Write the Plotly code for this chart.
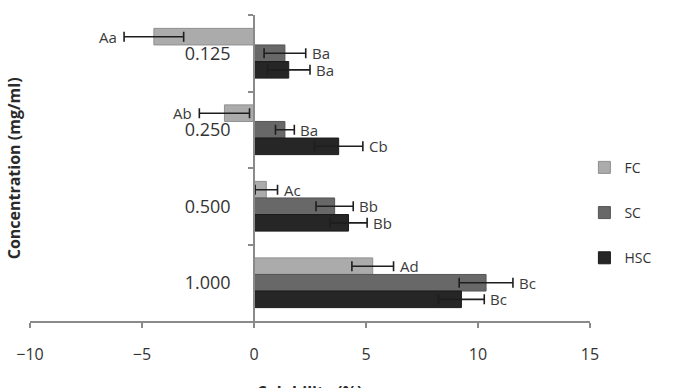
import plotly.graph_objects as go

categories = ["0.125", "0.250", "0.500", "1.000"]
series_names = ["FC", "SC", "HSC"]
fc_values = [-4.47, -1.32, 0.55, 5.3]
fc_errors = [1.33, 1.12, 0.5, 0.93]
sc_values = [1.38, 1.38, 3.6, 10.36]
sc_errors = [0.93, 0.42, 0.83, 1.2]
hsc_values = [1.55, 3.78, 4.22, 9.26]
hsc_errors = [0.95, 1.08, 0.83, 1.02]
fc_letters = ["Aa", "Ab", "Ac", "Ad"]
sc_letters = ["Ba", "Ba", "Bb", "Bc"]
hsc_letters = ["Ba", "Cb", "Bb", "Bc"]
x_ticks = [-10, -5, 0, 5, 10, 15]

colors = ["#ababab", "#686868", "#262626"]
edge = ["#8f8f8f", "#555555", "#1a1a1a"]
FONT = "Open Sans"

fig = go.Figure()
all_vals = [fc_values, sc_values, hsc_values]
all_errs = [fc_errors, sc_errors, hsc_errors]
all_letters = [fc_letters, sc_letters, hsc_letters]
for i, name in enumerate(series_names):
    fig.add_trace(go.Bar(
        name=name, y=categories, x=all_vals[i], orientation="h",
        marker=dict(color=colors[i], line=dict(color=edge[i], width=1)),
        error_x=dict(type="data", array=all_errs[i], visible=True,
                     color="#1e1e1e", thickness=1.6, width=5),
        legendgroup=name,
    ))

shifts = [16.5, 0, -16.5]
for i in range(3):
    for j, c in enumerate(categories):
        v, e = all_vals[i][j], all_errs[i][j]
        if v < 0:
            fig.add_annotation(x=v - e, y=j, text=all_letters[i][j], showarrow=False,
                               xanchor="right", xshift=-5, yshift=shifts[i],
                               font=dict(family=FONT, size=15, color="#3a3a3a"))
        else:
            fig.add_annotation(x=v + e, y=j, text=all_letters[i][j], showarrow=False,
                               xanchor="left", xshift=4, yshift=shifts[i],
                               font=dict(family=FONT, size=15, color="#3a3a3a"))

fig.add_annotation(xref="paper", yref="paper", x=-0.028, y=0.5,
                   text="<b>Concentration (mg/ml)</b>", textangle=-90, showarrow=False,
                   xanchor="center", yanchor="middle",
                   font=dict(family=FONT, size=16, color="#2a2a2a"))
fig.add_annotation(xref="paper", yref="paper", x=0.5, y=-0.19,
                   text="<b>Solubility (%)</b>", showarrow=False,
                   xanchor="center", yanchor="top",
                   font=dict(family=FONT, size=16, color="#2a2a2a"))

fig.update_layout(
    width=686, height=388,
    margin=dict(l=30, r=96, t=15, b=67),
    paper_bgcolor="white", plot_bgcolor="white",
    barmode="group", bargap=0.35, bargroupgap=0,
    showlegend=True,
    legend=dict(x=0.99, y=0.553, xanchor="left", yanchor="top",
                font=dict(family=FONT, size=14, color="#333333"),
                tracegroupgap=24, traceorder="grouped",
                itemwidth=30, bgcolor="rgba(0,0,0,0)"),
    font=dict(family=FONT, color="#333333"),
    xaxis=dict(range=[-10, 15], tickvals=x_ticks, showgrid=False, zeroline=False,
               showline=True, linecolor="#8a8a8a", linewidth=1.5,
               ticks="outside", ticklen=5, tickcolor="#8a8a8a", tickwidth=1.5,
               ticklabelstandoff=13,
               tickfont=dict(family=FONT, size=16, color="#333333")),
    yaxis=dict(type="category", categoryorder="array", categoryarray=categories,
               autorange="reversed", anchor="free", position=0.4,
               showgrid=False, zeroline=False, showline=True,
               linecolor="#8a8a8a", linewidth=1.5,
               ticks="outside", tickson="boundaries", ticklen=5,
               tickcolor="#8a8a8a", tickwidth=1.5, ticklabelstandoff=19,
               tickfont=dict(family=FONT, size=18, color="#333333")),
)

fig.write_html("out.html")
